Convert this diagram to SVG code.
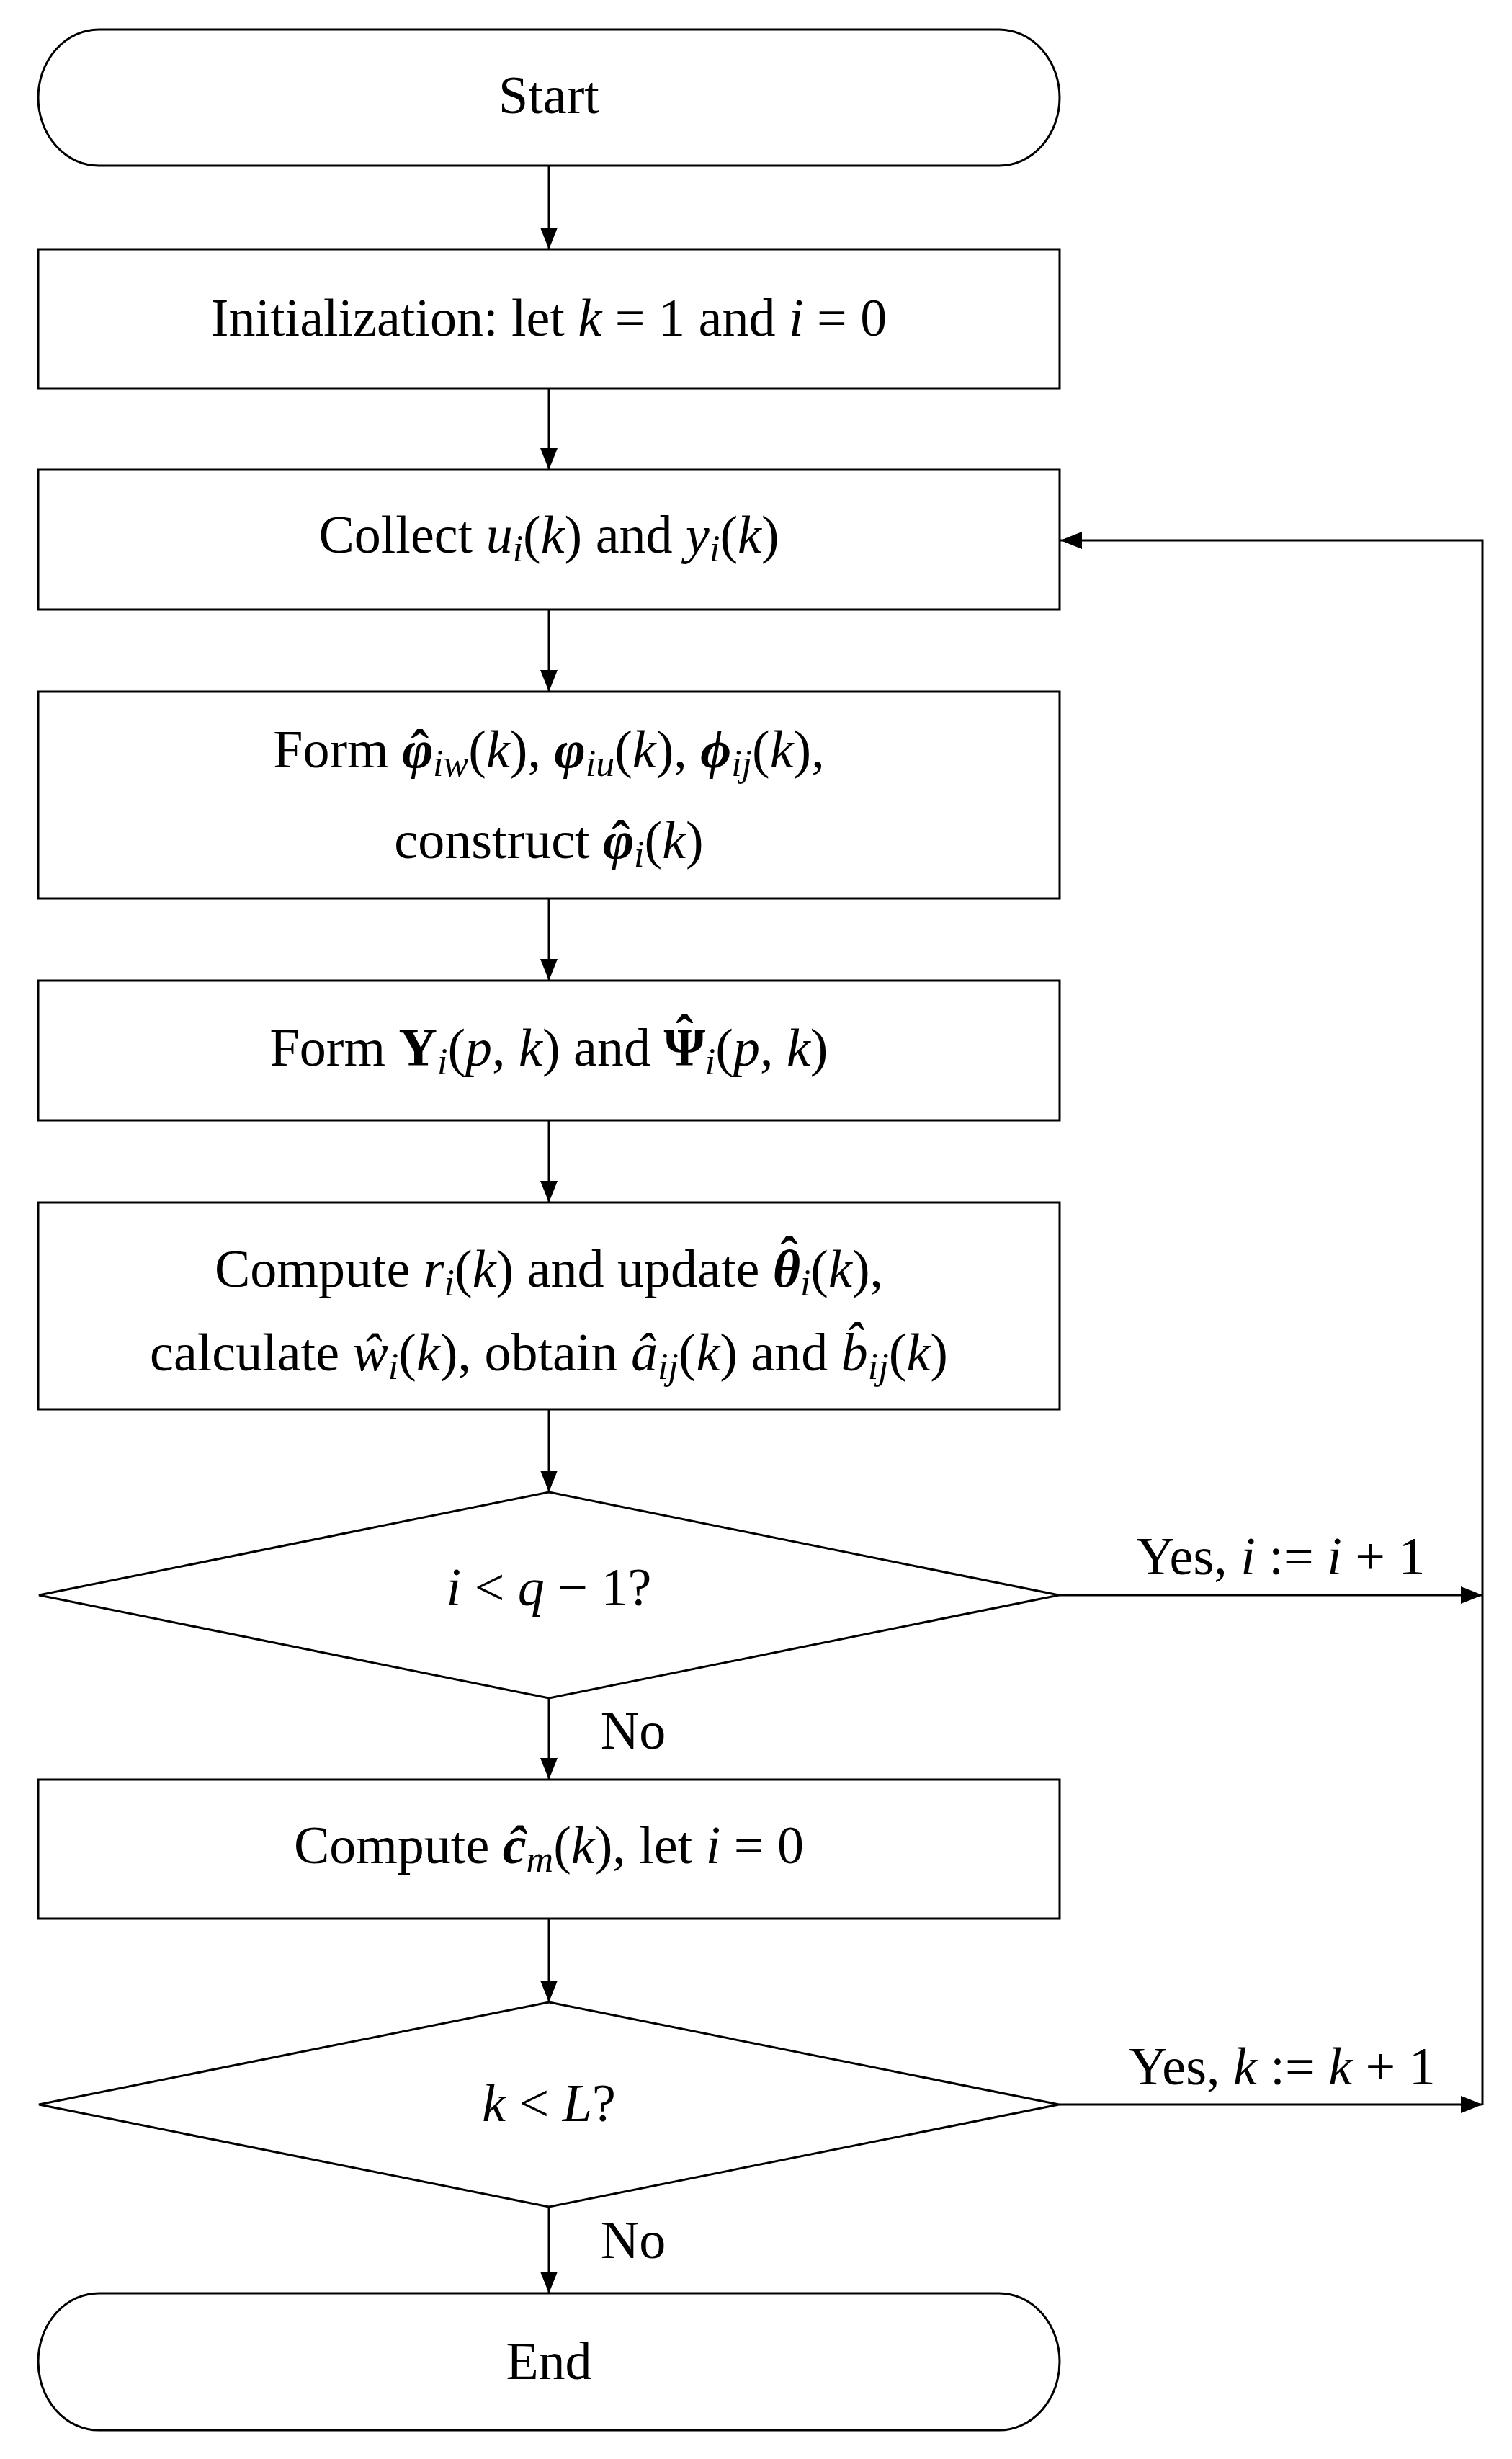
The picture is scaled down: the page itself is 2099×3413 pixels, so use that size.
<svg xmlns="http://www.w3.org/2000/svg" width="2099" height="3413" viewBox="0 0 2099 3413">
<style>
.shape{fill:#fff;stroke:#000;stroke-width:3}
.conn{fill:none;stroke:#000;stroke-width:3}
.t{font-family:"Liberation Serif","DejaVu Serif",serif;font-size:74px;fill:#000;text-anchor:middle}
.i{font-style:italic}
.s{font-style:italic;font-size:52px}
.b{font-style:italic;font-weight:bold}
.bu{font-weight:bold}
</style>
<defs>
<marker id="ah" markerUnits="userSpaceOnUse" markerWidth="30" markerHeight="24" refX="30" refY="12" orient="auto">
<path d="M0,0 L30,12 L0,24 Z" fill="#000"/>
</marker>
</defs>
<rect width="2099" height="3413" fill="#fff"/>
<g id="connectors">
<line class="conn" x1="762" y1="230" x2="762" y2="346" marker-end="url(#ah)"/>
<line class="conn" x1="762" y1="539" x2="762" y2="652" marker-end="url(#ah)"/>
<line class="conn" x1="762" y1="846" x2="762" y2="960" marker-end="url(#ah)"/>
<line class="conn" x1="762" y1="1247" x2="762" y2="1361" marker-end="url(#ah)"/>
<line class="conn" x1="762" y1="1555" x2="762" y2="1669" marker-end="url(#ah)"/>
<line class="conn" x1="762" y1="1956" x2="762" y2="2071" marker-end="url(#ah)"/>
<line class="conn" x1="762" y1="2357" x2="762" y2="2470" marker-end="url(#ah)"/>
<line class="conn" x1="762" y1="2663" x2="762" y2="2779" marker-end="url(#ah)"/>
<line class="conn" x1="762" y1="3063" x2="762" y2="3183" marker-end="url(#ah)"/>
<line class="conn" x1="1470" y1="2214" x2="2058" y2="2214" marker-end="url(#ah)"/>
<line class="conn" x1="1470" y1="2921" x2="2058" y2="2921" marker-end="url(#ah)"/>
<polyline class="conn" points="2058,2921 2058,750 1472,750" marker-end="url(#ah)"/>
<text class="t" x="1778" y="2185">Yes, <tspan class="i">i</tspan> := <tspan class="i">i</tspan> + 1</text>
<text class="t" x="1780" y="2893">Yes, <tspan class="i">k</tspan> := <tspan class="i">k</tspan> + 1</text>
<text class="t" x="879" y="2427">No</text>
<text class="t" x="879" y="3134">No</text>
</g>
<g id="start">
<path class="shape" d="M137,41 H1387 A84,94.5 0 0 1 1387,230 H137 A84,94.5 0 0 1 137,41 Z"/>
<text class="t" x="762" y="157">Start</text>
</g>
<g id="init">
<rect class="shape" x="53" y="346" width="1418" height="193"/>
<text class="t" x="762" y="466">Initialization: let <tspan class="i">k</tspan> = 1 and <tspan class="i">i</tspan> = 0</text>
</g>
<g id="collect">
<rect class="shape" x="53" y="652" width="1418" height="194"/>
<text class="t" x="762" y="767">Collect <tspan class="i">u</tspan><tspan class="s" dy="12">i</tspan><tspan dy="-12">(</tspan><tspan class="i">k</tspan>) and <tspan class="i">y</tspan><tspan class="s" dy="12">i</tspan><tspan dy="-12">(</tspan><tspan class="i">k</tspan>)</text>
</g>
<g id="form-phi">
<rect class="shape" x="53" y="960" width="1418" height="287"/>
<text class="t" x="762" y="1065">Form <tspan class="b">φ</tspan><tspan class="bu" dx="-31">ˆ</tspan><tspan class="s" dx="6" dy="12">iw</tspan><tspan dy="-12">(</tspan><tspan class="i">k</tspan>), <tspan class="b">φ</tspan><tspan class="s" dy="12">iu</tspan><tspan dy="-12">(</tspan><tspan class="i">k</tspan>), <tspan class="b">ϕ</tspan><tspan class="s" dy="12">ij</tspan><tspan dy="-12">(</tspan><tspan class="i">k</tspan>),</text>
<text class="t" x="762" y="1191">construct <tspan class="b">φ</tspan><tspan class="bu" dx="-31">ˆ</tspan><tspan class="s" dx="6" dy="12">i</tspan><tspan dy="-12">(</tspan><tspan class="i">k</tspan>)</text>
</g>
<g id="form-upsilon">
<rect class="shape" x="53" y="1361" width="1418" height="194"/>
<text class="t" x="762" y="1479">Form <tspan class="bu">Υ</tspan><tspan class="s" dy="12">i</tspan><tspan dy="-12">(</tspan><tspan class="i">p</tspan>, <tspan class="i">k</tspan>) and <tspan class="bu">Ψ</tspan><tspan class="bu" dx="-41" dy="-18">ˆ</tspan><tspan class="s" dx="16" dy="30">i</tspan><tspan dy="-12">(</tspan><tspan class="i">p</tspan>, <tspan class="i">k</tspan>)</text>
</g>
<g id="compute-r">
<rect class="shape" x="53" y="1669" width="1418" height="287"/>
<text class="t" x="762" y="1786">Compute <tspan class="i">r</tspan><tspan class="s" dy="12">i</tspan><tspan dy="-12">(</tspan><tspan class="i">k</tspan>) and update <tspan class="b">θ</tspan><tspan class="bu" dx="-28" dy="-18">ˆ</tspan><tspan class="s" dx="3" dy="30">i</tspan><tspan dy="-12">(</tspan><tspan class="i">k</tspan>),</text>
<text class="t" x="762" y="1902">calculate <tspan class="i">ŵ</tspan><tspan class="s" dy="12">i</tspan><tspan dy="-12">(</tspan><tspan class="i">k</tspan>), obtain <tspan class="i">â</tspan><tspan class="s" dy="12">ij</tspan><tspan dy="-12">(</tspan><tspan class="i">k</tspan>) and <tspan class="i">b̂</tspan><tspan class="s" dy="12">ij</tspan><tspan dy="-12">(</tspan><tspan class="i">k</tspan>)</text>
</g>
<g id="decision-i">
<polygon class="shape" points="762,2071 1470,2214 762,2357 54,2214"/>
<text class="t" x="762" y="2228"><tspan class="i">i</tspan> &lt; <tspan class="i">q</tspan> − 1?</text>
</g>
<g id="compute-c">
<rect class="shape" x="53" y="2470" width="1418" height="193"/>
<text class="t" x="762" y="2586">Compute <tspan class="b">ĉ</tspan><tspan class="s" dy="12">m</tspan><tspan dy="-12">(</tspan><tspan class="i">k</tspan>), let <tspan class="i">i</tspan> = 0</text>
</g>
<g id="decision-k">
<polygon class="shape" points="762,2779 1470,2921 762,3063 54,2921"/>
<text class="t" x="762" y="2944"><tspan class="i">k</tspan> &lt; <tspan class="i">L</tspan>?</text>
</g>
<g id="end">
<path class="shape" d="M137,3183 H1387 A84,95 0 0 1 1387,3373 H137 A84,95 0 0 1 137,3183 Z"/>
<text class="t" x="762" y="3302">End</text>
</g>
</svg>
